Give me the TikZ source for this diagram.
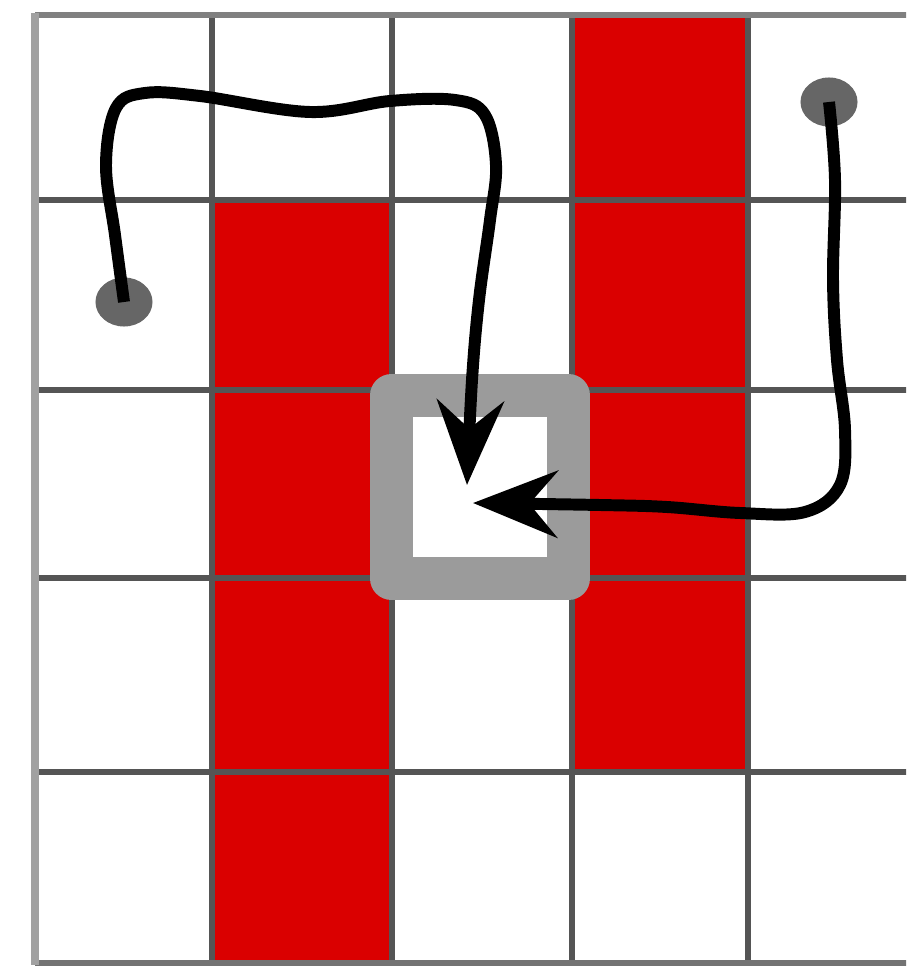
\documentclass[tikz,border=0pt]{standalone}
\usepackage{tikz}
\usetikzlibrary{arrows.meta, shapes.geometric}

\definecolor{cellred}{RGB}{218,0,0}
\definecolor{gridgray}{RGB}{85,85,85}
\definecolor{framegray}{RGB}{155,155,155}
\definecolor{dotgray}{RGB}{102,102,102}

\begin{document}
\begin{tikzpicture}[x=0.01cm, y=-0.01cm, >={Stealth[length=24pt, width=19pt, inset=8pt]},
  gridline/.style={line width=1.7pt, gridgray},
  route/.style={->, line width=3.4pt, black},
  dot/.style={ellipse, fill=dotgray, inner sep=0pt, minimum width=0.57cm, minimum height=0.49cm},
  goalbox/.style={draw=framegray, line width=12.2pt, line join=round, fill=white,
    minimum width=1.77cm, minimum height=1.83cm, inner sep=0pt}]
  \useasboundingbox (0,0) rectangle (906,967);
  \clip (0,0) rectangle (906,967);
  \fill[white] (0,0) rectangle (906,967);
  % Red columns
  \fill[cellred] (212,200) rectangle (392,963);
  \fill[cellred] (572,15) rectangle (748,772);
  % Grid
  \foreach \x in {212,392,572,748} \draw[gridline] (\x,15) -- (\x,963);
  \foreach \y in {200,390,578,772} \draw[gridline] (35,\y) -- (920,\y);
  \draw[line width=1.8pt, black!50] (35,15) -- (920,15);
  \draw[line width=1.6pt, black!55] (35,963) -- (920,963);
  \draw[line width=2pt, black!37] (35,13) -- (35,965);
  % Goal cell
  \node[goalbox] (goal) at (480,487) {};
  \coordinate (tipA) at (467,485);
  \coordinate (tipB) at (473,503);
  % Start points
  \node[dot] (dotA) at (124,302) {};
  \node[dot] (dotB) at (829,102) {};
  % Routes
  \draw[route] plot[smooth, tension=0.6] coordinates
    {(dotA) (115,235) (106,165) (116,108) (145,93) (200,96) (310,112) (390,101)
     (455,100) (485,115) (496,165) (490,220) (479,300) (472,380) (tipA)};
  \draw[route] plot[smooth, tension=0.6] coordinates
    {(dotB) (835,180) (833,280) (837,360) (845,430) (840,485) (805,512) (740,513)
     (667,507) (600,505) (tipB)};
\end{tikzpicture}
\end{document}
